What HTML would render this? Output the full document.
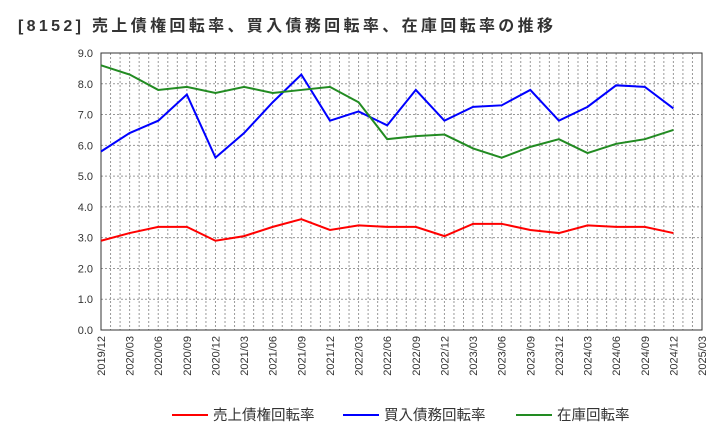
<!DOCTYPE html>
<html><head><meta charset="utf-8"><style>
body{margin:0;background:#fff;}
svg text{font-family:"Liberation Sans","Noto Sans CJK JP",sans-serif;}
</style></head><body>
<svg id="chart" width="720" height="440" xmlns="http://www.w3.org/2000/svg">
<text x="18" y="31" font-size="16" font-weight="bold" fill="#333" textLength="535" lengthAdjust="spacing">[8152]  売上債権回転率、買入債務回転率、在庫回転率の推移</text>
<g id="grid"></g><g id="axes"></g><g id="series"></g><g id="legend"></g>
</svg>
<script>
const xLabels=["2019/12","2020/03","2020/06","2020/09","2020/12","2021/03","2021/06","2021/09","2021/12","2022/03","2022/06","2022/09","2022/12","2023/03","2023/06","2023/09","2023/12","2024/03","2024/06","2024/09","2024/12","2025/03"];
const yTicks=[0,1,2,3,4,5,6,7,8,9];
const receivables=[2.9,3.15,3.35,3.35,2.9,3.05,3.35,3.6,3.25,3.4,3.35,3.35,3.05,3.45,3.45,3.25,3.15,3.4,3.35,3.35,3.15];
const payables=[5.8,6.4,6.8,7.65,5.6,6.4,7.4,8.3,6.8,7.1,6.65,7.8,6.8,7.25,7.3,7.8,6.8,7.25,7.95,7.9,7.2];
const inventory=[8.6,8.3,7.8,7.9,7.7,7.9,7.7,7.8,7.9,7.4,6.2,6.3,6.35,5.9,5.6,5.95,6.2,5.75,6.05,6.2,6.5];
const seriesNames=["売上債権回転率","買入債務回転率","在庫回転率"];
const colors=["#ff0000","#0000ff","#228b22"];
const L=101,R=702,T=53,B=330;
const NS="http://www.w3.org/2000/svg";
const xq=i=>L+(R-L)*i/(xLabels.length-1);
const xm=m=>L+(R-L)*m/((xLabels.length-1)*3);
const y=v=>B-(B-T)*v/9;
function mk(tag,attrs,parent){const e=document.createElementNS(NS,tag);for(const k in attrs)e.setAttribute(k,attrs[k]);parent.appendChild(e);return e;}
const grid=document.getElementById('grid'),axes=document.getElementById('axes'),ser=document.getElementById('series'),leg=document.getElementById('legend');
for(let m=1;m<(xLabels.length-1)*3;m++){const l=mk('line',{x1:xm(m),x2:xm(m),y1:T,y2:B,stroke:'#999','stroke-dasharray':'2,2','stroke-width':1},grid);

}
yTicks.forEach(v=>{if(v>0&&v<9){const l=mk('line',{x1:L,x2:R,y1:y(v),y2:y(v),stroke:'#999','stroke-dasharray':'2,2','stroke-width':1},grid);

}
const t=mk('text',{x:L-8,y:y(v)+4,'text-anchor':'end','font-size':11,fill:'#333'},axes);t.textContent=v.toFixed(1);

});
const fr=mk('rect',{x:L,y:T,width:R-L,height:B-T,fill:'none',stroke:'#333','stroke-width':1},axes);


xLabels.forEach((s,i)=>{const t=mk('text',{transform:`translate(${xq(i)+4},${B+6}) rotate(-90)`,'text-anchor':'end','font-size':11,fill:'#333'},axes);t.textContent=s;

});
[receivables,payables,inventory].forEach((d,k)=>{const p=mk('polyline',{points:d.map((v,i)=>xq(i)+','+y(v)).join(' '),fill:'none',stroke:colors[k],'stroke-width':2},ser);


const lx=[172,343,516][k];
const g=mk('g',{},leg);


mk('line',{x1:lx,x2:lx+36,y1:415,y2:415,stroke:colors[k],'stroke-width':2},g);
const t=mk('text',{x:lx+41,y:420,'font-size':14.5,fill:'#333'},g);t.textContent=seriesNames[k];});
</script>
</body></html>
